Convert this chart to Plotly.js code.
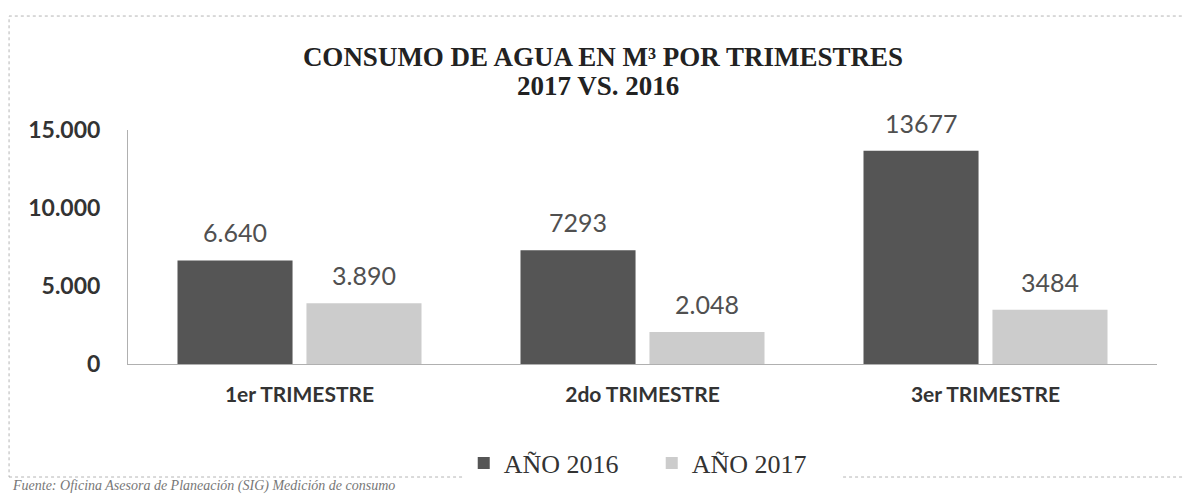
<!DOCTYPE html>
<html>
<head>
<meta charset="utf-8">
<script src="https://cdn.plot.ly/plotly-3.0.1.min.js"></script>
<style>html,body{margin:0;padding:0;background:#fff;}#chart{width:1183px;height:496px;}</style>
</head>
<body>
<div id="chart"></div>
<script>
const categories = ["1er TRIMESTRE", "2do TRIMESTRE", "3er TRIMESTRE"];
const seriesNames = ["AÑO 2016", "AÑO 2017"];
const values2016 = [6640, 7293, 13677];
const values2017 = [3890, 2048, 3484];
const labels2016 = ["6.640", "7293", "13677"];
const labels2017 = ["3.890", "2.048", "3484"];
const yTickVals = [0, 5000, 10000, 15000];
const yTickText = ["0", "5.000", "10.000", "15.000"];
const titleLine1 = "CONSUMO DE AGUA EN M³ POR TRIMESTRES";
const titleLine2 = "2017 VS. 2016";
const sourceNote = "Fuente: Oficina Asesora de Planeación (SIG) Medición de consumo";

const colors = ["#555555", "#cccccc"];
const bargap = 0.248;
const groupOffset = (1 - bargap) / 4;
const sans = "Lato, 'Open Sans', sans-serif";
const serif = "'Liberation Serif', 'Times New Roman', serif";

const traces = [
  {type: "bar", name: seriesNames[0], x: categories, y: values2016, marker: {color: colors[0]}, hoverinfo: "y"},
  {type: "bar", name: seriesNames[1], x: categories, y: values2017, marker: {color: colors[1]}, hoverinfo: "y"}
];

const annotations = [];
categories.forEach((c, i) => {
  annotations.push({x: i - groupOffset, y: values2016[i], xref: "x", yref: "y", text: labels2016[i],
    showarrow: false, yanchor: "middle", yshift: 28, font: {family: sans, size: 25, color: "#505050"}});
  annotations.push({x: i + groupOffset, y: values2017[i], xref: "x", yref: "y", text: labels2017[i],
    showarrow: false, yanchor: "middle", yshift: 28, font: {family: sans, size: 25, color: "#505050"}});
});
annotations.push({xref: "paper", yref: "paper", x: 0.4568, y: 1.188, xanchor: "center", yanchor: "middle",
  text: "<b>" + titleLine2 + "</b>", showarrow: false, font: {family: serif, size: 27, color: "#222"}});
annotations.push({xref: "paper", yref: "paper", x: -0.1147, y: -0.564, xanchor: "left", yanchor: "bottom",
  text: "<i>" + sourceNote + "</i>", showarrow: false,
  font: {family: serif, size: 14, color: "#777"}});

const layout = {
  width: 1183, height: 496,
  margin: {l: 128, r: 26, t: 130, b: 132, autoexpand: false},
  paper_bgcolor: "#fff", plot_bgcolor: "#fff",
  barmode: "group", bargap: bargap, bargroupgap: 0.108,
  showlegend: true,
  title: {
    text: "<b>" + titleLine1 + "</b>",
    x: 0.5097, xref: "container", xanchor: "center",
    y: 0.885, yref: "container", yanchor: "middle",
    font: {family: serif, size: 27, color: "#222"}
  },
  xaxis: {
    type: "category", showline: true, linecolor: "#b0b0b0", linewidth: 1,
    ticks: "outside", ticklen: 12, tickcolor: "rgba(0,0,0,0)",
    tickfont: {family: sans, size: 21, color: "#333", weight: "bold"},
    showgrid: false, fixedrange: true
  },
  yaxis: {
    range: [0, 15000], tickvals: yTickVals, ticktext: yTickText,
    showline: true, linecolor: "#b0b0b0", linewidth: 1, showgrid: false, zeroline: false,
    ticks: "outside", ticklen: 22, tickcolor: "rgba(0,0,0,0)",
    tickfont: {family: sans, size: 23, color: "#333", weight: "bold"},
    fixedrange: true
  },
  legend: {
    orientation: "h", xref: "container", x: 0.392, xanchor: "left",
    yref: "container", y: 0.0665, yanchor: "middle",
    font: {family: serif, size: 26, color: "#333"},
    entrywidth: 143, entrywidthmode: "pixels",
    traceorder: "normal"
  },
  annotations: annotations,
  shapes: [
    {type: "rect", xref: "paper", yref: "paper", x0: -0.1156, x1: 1.032, y0: -0.483, y1: 1.487,
      line: {color: "#b5b5b5", width: 1, dash: "dot"}, fillcolor: "rgba(0,0,0,0)"}
  ]
};

Plotly.newPlot("chart", traces, layout, {displayModeBar: false, staticPlot: true});
</script>
</body>
</html>
